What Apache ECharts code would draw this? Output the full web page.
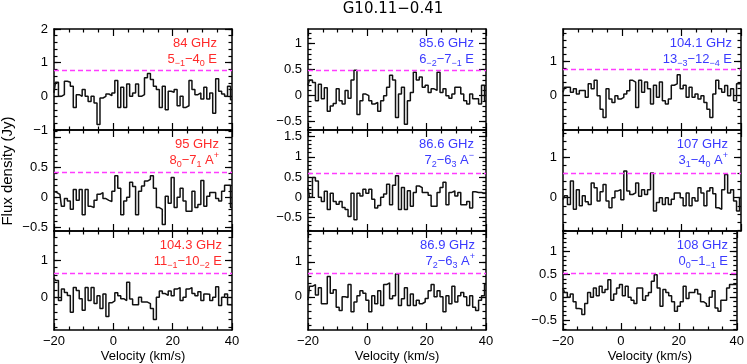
<!DOCTYPE html>
<html>
<head>
<meta charset="utf-8">
<script src="https://cdn.jsdelivr.net/npm/echarts@6/dist/echarts.min.js"></script>
<style>
html, body { margin: 0; padding: 0; background: #fff; }
#main { width: 747px; height: 364px; }
</style>
</head>
<body>
<div id="main"></div>
<script>
// channel velocities (km/s)
var velocity = [-20,-19,-18,-17,-16,-15,-14,-13,-12,-11,-10,-9,-8,-7,-6,-5,-4,-3,-2,-1,0,
  1,2,3,4,5,6,7,8,9,10,11,12,13,14,15,16,17,18,19,20,
  21,22,23,24,25,26,27,28,29,30,31,32,33,34,35,36,37,38,39,40];

// flux density (Jy), one array per line
var flux84 = [0.1,0.42,0.0,0.05,0.45,0.42,0.3,-0.33,0.05,0.0,0.2,0.0,-0.15,0.0,-0.2,-0.84,-0.05,0.0,0.07,0.02,0.1,
  0.47,-0.33,0.27,-0.33,0.37,0.0,0.1,0.37,0.0,0.05,0.55,0.68,0.5,0.3,0.2,-0.33,0.3,-0.4,0.15,0.12,
  0.2,-0.28,0.0,-0.33,-0.28,0.47,0.2,0.05,0.1,-0.08,0.27,-0.08,0.1,-0.5,0.52,0.15,0.07,0.0,0.3,-0.1];
var flux85_6 = [0.2,0.3,0.25,-0.1,0.22,-0.06,0.15,-0.3,-0.2,-0.15,0.13,-0.1,-0.16,0.1,-0.05,0.3,0.49,-0.36,-0.1,0.03,0.0,
  -0.1,-0.16,-0.13,-0.3,-0.1,0.0,0.16,0.39,0.3,-0.42,0.03,0.16,-0.55,-0.1,0.06,0.45,0.3,0.36,0.16,0.2,
  0.06,0.13,0.1,0.45,0.06,0.13,0.0,-0.05,0.03,0.16,0.16,0.03,-0.1,-0.16,0.03,-0.06,-0.06,-0.16,0.2,-0.1];
var flux104_1 = [0.1,0.24,0.24,0.1,0.2,0.05,0.15,0.15,-0.05,0.34,0.2,0.44,0.0,-0.39,-0.63,0.2,-0.1,-0.2,0.0,-0.1,-0.05,
  0.05,0.14,0.44,0.39,-0.34,0.44,0.1,0.39,0.2,-0.24,0.3,-0.05,0.39,-0.15,-0.24,-0.1,0.3,0.34,0.6,0.2,
  0.3,-0.05,0.24,-0.05,0.05,-0.1,0.0,-0.2,-0.39,-0.63,0.05,0.44,0.2,0.1,0.29,0.0,0.2,-0.15,0.34,0.34];
var flux95 = [0.1,0.08,0.05,-0.15,-0.02,-0.06,-0.2,0.13,-0.05,0.13,-0.29,0.13,-0.15,-0.17,-0.05,0.05,0.08,-0.02,-0.05,-0.07,0.1,
  0.36,0.15,-0.29,-0.06,0.0,0.25,0.18,-0.29,0.1,0.19,0.27,0.3,0.36,0.15,-0.17,-0.2,-0.45,0.02,-0.1,0.33,
  -0.17,0.0,0.15,-0.06,-0.23,-0.23,0.1,-0.17,-0.12,0.28,-0.15,0.02,0.08,0.08,-0.02,-0.06,0.1,0.2,0.2,-0.17];
var flux86_6 = [0.24,0.0,0.49,0.4,0.0,-0.1,0.15,-0.3,0.1,-0.1,-0.17,-0.1,-0.25,-0.3,-0.47,0.1,-0.55,0.1,0.03,0.2,0.1,
  0.2,-0.05,-0.26,-0.2,0.0,0.08,0.32,-0.18,0.3,0.53,-0.3,0.24,-0.3,0.16,-0.22,0.12,0.28,0.24,0.12,0.12,
  0.05,-0.22,-0.22,0.12,0.24,0.37,-0.18,0.12,0.16,0.03,0.12,-0.18,-0.18,-0.1,-0.26,0.14,0.12,0.12,0.1,0.12];
var flux107 = [-0.05,0.05,-0.17,0.42,-0.29,0.2,-0.2,0.05,-0.1,-0.17,0.37,0.25,-0.08,0.15,0.33,-0.08,-0.25,0.0,0.17,0.2,-0.05,
  0.67,0.17,0.08,0.12,0.37,0.04,0.2,0.08,0.2,0.62,-0.33,-0.12,0.0,-0.17,0.0,-0.17,-0.04,0.12,0.12,0.0,
  -0.2,0.12,-0.2,0.0,-0.08,0.25,0.12,-0.2,0.17,0.25,0.1,-0.25,-0.29,0.2,0.58,0.12,0.2,-0.08,-0.33,0.0];
var flux104_3 = [0.52,0.45,-0.09,0.22,0.13,0.05,-0.4,0.26,0.18,-0.04,-0.35,0.26,-0.09,0.26,-0.17,0.04,-0.3,0.09,-0.52,-0.15,-0.1,
  0.12,0.04,-0.04,-0.09,0.4,-0.05,-0.2,-0.2,0.0,-0.13,-0.13,-0.17,-0.3,-0.6,0.0,0.17,0.1,0.05,0.17,0.04,
  0.22,0.26,-0.09,0.0,0.22,0.26,0.1,0.04,0.15,-0.09,0.09,0.08,-0.09,0.0,0.28,-0.22,0.0,0.09,-0.2,-0.22];
var flux86_9 = [-0.1,0.3,0.35,0.05,0.26,-0.2,-0.2,0.58,0.1,0.2,-0.3,-0.39,0.0,-0.02,0.35,-0.43,-0.15,0.03,0.17,0.1,-0.1,
  -0.43,0.03,-0.2,0.17,-0.25,0.35,0.4,-0.06,0.03,0.65,-0.25,-0.06,0.26,-0.25,0.08,-0.25,-0.1,-0.2,-0.15,-0.05,
  0.17,0.35,0.0,0.17,0.0,-0.43,0.03,-0.2,0.3,-0.15,0.03,0.12,0.0,-0.25,0.03,-0.3,-0.39,-0.1,0.03,0.35];
var flux108 = [0.2,0.1,0.0,0.07,-0.1,-0.25,-0.26,-0.38,-0.14,0.1,0.0,0.2,0.03,0.24,0.1,0.17,0.38,-0.07,0.07,0.2,0.28,
  0.03,0.24,0.0,-0.07,-0.14,0.2,0.2,-0.07,0.03,0.1,0.35,0.49,0.2,-0.2,0.17,0.1,0.03,-0.1,-0.31,-0.2,
  -0.1,0.24,-0.03,0.1,0.1,0.17,0.07,-0.1,-0.14,-0.2,0.0,0.14,-0.24,-0.31,-0.07,-0.07,0.2,0.28,0.28,0.28];

// panel order: row by row, left to right
var spectra = [flux84, flux85_6, flux104_1, flux95, flux86_6, flux107, flux104_3, flux86_9, flux108];
var freqLabels = ['84 GHz', '85.6 GHz', '104.1 GHz', '95 GHz', '86.6 GHz', '107 GHz', '104.3 GHz', '86.9 GHz', '108 GHz'];
var transLabels = [
  '5{b|\u22121}\u22124{b|0} E',
  '6{b|\u22122}\u22127{b|\u22121} E',
  '13{b|\u22123}\u221212{b|\u22124} E',
  '8{b|0}\u22127{b|1} A{t|+}',
  '7{b|2}\u22126{b|3} A{t|\u2212}',
  '3{b|1}\u22124{b|0} A{t|+}',
  '11{b|\u22121}\u221210{b|\u22122} E',
  '7{b|2}\u22126{b|3} A{t|+}',
  '0{b|0}\u22121{b|\u22121} E'
];
var dashLevels = [0.77, 0.49, 0.75, 0.41, 0.60, 0.62, 0.65, 0.68, 0.53];
var yRanges = [[-1, 2], [-0.66, 1.28], [-0.99, 1.92], [-0.56, 1.12], [-0.83, 1.66], [-0.83, 1.69], [-0.88, 1.78], [-0.95, 1.88], [-0.72, 1.45]];
var yLabels = [[-1, 0, 1, 2], [-0.5, 0, 0.5, 1], [0, 1], [-0.5, 0, 0.5], [-0.5, 0, 0.5, 1, 1.5], [0, 1], [0, 1], [0, 1], [-0.5, 0, 0.5, 1]];
var yMajorStep = [1, 0.5, 1, 0.5, 0.5, 1, 1, 1, 0.5];
var xLabels = [-20, 0, 20, 40];

var FONT = '"Liberation Sans", Arial, Helvetica, sans-serif';
var colLeft = [54, 308, 563], rowTop = [29, 130, 231], W = 178, H = 101;
var textRight = [[217, 474, 732], [219, 474, 728], [222, 475, 728]];
var colors = ['#ff2a2a', '#3a3aff', '#3a3aff'];

function stepTicks(range, step) {
  var out = [];
  var k = Math.ceil(range[0] / step - 1e-9);
  for (; k * step <= range[1] + 1e-9; k++) out.push(+(k * step).toFixed(4));
  return out;
}
function fmt(v) { return String(v).replace('-', '\u2212'); }

var grids = [], xAxes = [], yAxes = [], series = [], graphics = [];
var tickStyle = {color: '#000', width: 1.2};

spectra.forEach(function (arr, i) {
  var col = i % 3, row = Math.floor(i / 3);
  grids.push({left: colLeft[col], top: rowTop[row], width: W, height: H, containLabel: false});

  ['bottom', 'top'].forEach(function (pos) {
    xAxes.push({
      gridIndex: i, type: 'value', position: pos, min: -20, max: 40, interval: 20,
      axisLine: {onZero: false, lineStyle: {color: '#000', width: 1.5}},
      axisTick: {inside: true, length: 7, lineStyle: tickStyle},
      minorTick: {show: true, splitNumber: 4, length: 3.5, lineStyle: tickStyle},
      splitLine: {show: false},
      axisLabel: {
        show: pos === 'bottom' && row === 2, margin: 5, color: '#000', fontSize: 13, fontFamily: FONT,
        formatter: fmt, customValues: xLabels
      },
      name: pos === 'bottom' && row === 2 ? 'Velocity (km/s)' : '',
      nameLocation: 'middle', nameGap: 20,
      nameTextStyle: {color: '#000', fontSize: 13, fontFamily: FONT}
    });
  });

  var yr = yRanges[i];
  var majors = stepTicks(yr, yMajorStep[i]);
  var minors = stepTicks(yr, yMajorStep[i] / 5);
  ['left', 'right'].forEach(function (pos) {
    yAxes.push({
      gridIndex: i, type: 'value', position: pos, min: yr[0], max: yr[1],
      axisLine: {onZero: false, lineStyle: {color: '#000', width: 1.5}},
      axisTick: {inside: true, length: 7, lineStyle: tickStyle, customValues: majors},
      splitLine: {show: false},
      axisLabel: {
        show: pos === 'left', margin: 6, color: '#000', fontSize: 13, fontFamily: FONT,
        formatter: fmt, customValues: yLabels[i]
      }
    });
    yAxes.push({
      gridIndex: i, type: 'value', position: pos, min: yr[0], max: yr[1],
      axisLine: {show: false, onZero: false},
      axisTick: {inside: true, length: 3.5, lineStyle: tickStyle, customValues: minors},
      splitLine: {show: false},
      axisLabel: {show: false}
    });
  });

  series.push({
    type: 'line', xAxisIndex: 2 * i, yAxisIndex: 4 * i,
    data: velocity.map(function (v, k) { return [v, arr[k]]; }),
    step: 'middle', symbol: 'none', silent: true,
    lineStyle: {color: '#111', width: 1.5},
    markLine: {
      silent: true, symbol: 'none', label: {show: false},
      lineStyle: {color: '#ff3cff', type: [5, 3], width: 1.3},
      data: [{yAxis: dashLevels[i]}]
    }
  });

  var c = colors[col], xr = textRight[row][col];
  graphics.push({
    type: 'text', x: xr, y: rowTop[row] + 14, silent: true,
    style: {text: freqLabels[i], fill: c, fontSize: 13, fontFamily: FONT, align: 'right', verticalAlign: 'middle'}
  });
  graphics.push({
    type: 'text', x: xr, y: rowTop[row] + 30, silent: true,
    style: {
      text: transLabels[i], fill: c, fontSize: 13, fontFamily: FONT, lineHeight: 18,
      align: 'right', verticalAlign: 'middle',
      rich: {
        b: {fill: c, fontSize: 9, fontFamily: FONT, lineHeight: 10, verticalAlign: 'bottom'},
        t: {fill: c, fontSize: 9, fontFamily: FONT, lineHeight: 10, verticalAlign: 'top'}
      }
    }
  });
});

graphics.push({
  type: 'text', x: 393, y: 9, silent: true,
  style: {text: 'G10.11\u22120.41', fill: '#000', fontSize: 15, fontFamily: '"DejaVu Sans", sans-serif', align: 'center', verticalAlign: 'middle'}
});
graphics.push({
  type: 'text', x: 8, y: 171, rotation: Math.PI / 2, silent: true,
  style: {text: 'Flux density (Jy)', fill: '#000', fontSize: 15, fontFamily: FONT, align: 'center', verticalAlign: 'middle'}
});

var chart = echarts.init(document.getElementById('main'));
chart.setOption({
  animation: false,
  backgroundColor: '#fff',
  grid: grids,
  xAxis: xAxes,
  yAxis: yAxes,
  series: series,
  graphic: graphics
});
window.onresize = chart.resize;
</script>
</body>
</html>
